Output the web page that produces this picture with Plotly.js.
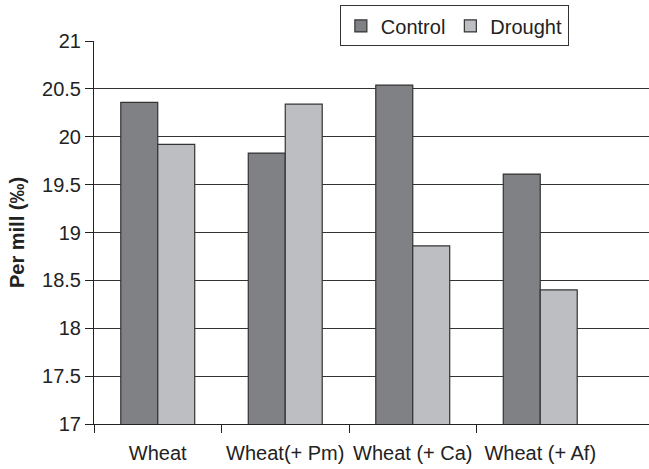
<!DOCTYPE html>
<html>
<head>
<meta charset="utf-8">
<script src="https://cdn.plot.ly/plotly-3.0.1.min.js"></script>
<style>html,body{margin:0;padding:0;background:#fff;}</style>
</head>
<body>
<div id="chart" style="width:649px;height:469px;"></div>
<script>
const categories = ["Wheat", "Wheat(+ Pm)", "Wheat (+ Ca)", "Wheat (+ Af)"];
const positions = [0, 1, 2, 3];
const control = [20.36, 19.83, 20.54, 19.61];
const drought = [19.92, 20.34, 18.86, 18.40];
const boundaryTicks = [-0.5, 0.5, 1.5, 2.5];

const font = "Liberation Sans, Arial, sans-serif";
const traces = [
  {type: "bar", name: "Control", x: positions, y: control,
   marker: {color: "#808184", line: {color: "#333333", width: 1.2}}},
  {type: "bar", name: "Drought", x: positions, y: drought,
   marker: {color: "#bdbec2", line: {color: "#333333", width: 1.2}}},
  // invisible carrier so the category-label axis is drawn
  {type: "scatter", mode: "markers", x: positions, y: control, xaxis: "x2",
   marker: {opacity: 0, size: 1}, showlegend: false, hoverinfo: "skip"}
];
const layout = {
  width: 649, height: 469,
  margin: {l: 94, r: 0, t: 41, b: 45},
  paper_bgcolor: "#fff", plot_bgcolor: "#fff",
  font: {family: font, color: "#222", size: 20},
  barmode: "group", bargap: 0.42, bargroupgap: 0,
  showlegend: true,
  legend: {orientation: "h", x: 0.443, y: 1.093, xanchor: "left", yanchor: "top",
    bordercolor: "#333", borderwidth: 1, bgcolor: "#fff",
    font: {family: font, size: 20, color: "#222"}, traceorder: "normal"},
  xaxis: {range: [-0.5, 3.853], tickmode: "array", tickvals: boundaryTicks,
    ticktext: boundaryTicks.map(() => ""), ticks: "outside", ticklen: 8,
    tickcolor: "#222", showline: true, linecolor: "#222", linewidth: 1,
    showgrid: false, zeroline: false, fixedrange: true},
  xaxis2: {overlaying: "x", anchor: "y", side: "bottom", range: [-0.5, 3.853],
    tickmode: "array", tickvals: positions, ticktext: categories,
    ticks: "outside", ticklen: 11, tickcolor: "rgba(0,0,0,0)",
    showline: false, showgrid: false, zeroline: false,
    tickfont: {family: font, size: 20, color: "#222"}},
  yaxis: {range: [17, 21], dtick: 0.5, tick0: 17, ticks: "outside", ticklen: 8,
    tickcolor: "#222", showline: true, linecolor: "#222", linewidth: 1,
    showgrid: true, gridcolor: "#333", gridwidth: 1, zeroline: false,
    tickfont: {family: font, size: 20, color: "#222"},
    title: {text: "<b>Per mill (‰)</b>", standoff: 12,
      font: {family: font, size: 20, color: "#222"}}}
};
Plotly.newPlot("chart", traces, layout, {displayModeBar: false, staticPlot: true});
</script>
</body>
</html>
